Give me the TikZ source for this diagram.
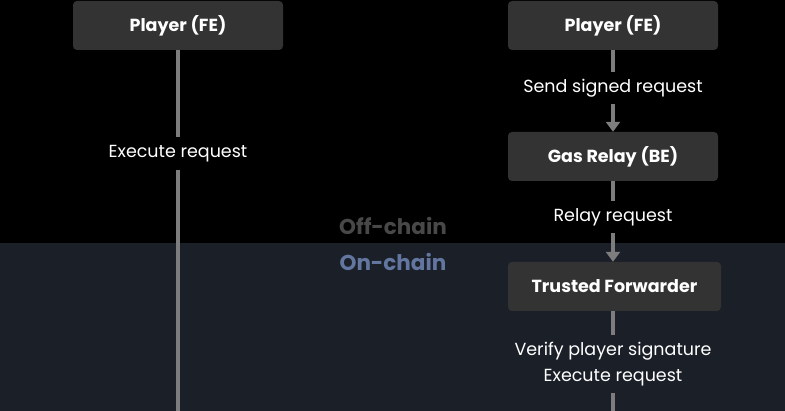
\documentclass[tikz,border=0pt]{standalone}
\usepackage{fontspec}
\setmainfont{Poppins}
\usetikzlibrary{arrows.meta}
\definecolor{boxgray}{HTML}{333333}
\definecolor{linegray}{HTML}{7D7D7D}
\definecolor{onbg}{HTML}{1B1F28}
\definecolor{offtxt}{HTML}{484848}
\definecolor{ontxt}{HTML}{6276A0}
\tikzset{
	actor/.style={fill=boxgray, rounded corners=4pt, minimum width=210pt, minimum height=49pt, text=white, font=\fontsize{17.5}{20}\selectfont\bfseries},
	step label/.style={text=white, minimum height=32pt, inner sep=0pt, align=center, font=\fontsize{17.5}{26}\selectfont},
	flow/.style={draw=linegray, line width=4pt},
	flowarrow/.style={flow, -{Triangle[width=14pt,length=10pt]}},
	zone/.style={font=\fontsize{21.5}{24}\selectfont\bfseries}
}
\begin{document}
\begin{tikzpicture}[x=1pt, y=-1pt]
	\useasboundingbox (0,0) rectangle (785,411);
	% fundo: off-chain em cima, on-chain em baixo
		\fill[black] (0,0) rectangle (785,243);
		\fill[onbg] (0,243) rectangle (785,411);
		\node[zone, text=offtxt] (offchain) at (393,226) {Off-chain};
		\node[zone, text=ontxt] (onchain) at (393,262) {On-chain};

	% coluna da esquerda
		\node[actor] (playerL) at (178,25.5) {Player (FE)};
		\node[step label] (execL) at (178,153.5) {Execute request};
		\coordinate (endL) at (178,411);
		\draw[flow] (playerL) -- (execL);
		\draw[flow] (execL) -- (endL);

	% coluna da direita
		\node[actor] (playerR) at (613,25.5) {Player (FE)};
		\node[step label] (send) at (613,88) {Send signed request};
		\node[actor] (relay) at (613,156.5) {Gas Relay (BE)};
		\node[step label] (relaylbl) at (613,217) {Relay request};
		\node[actor, minimum width=213pt] (forwarder) at (614.5,286.5) {Trusted Forwarder};
		\node[step label, minimum height=58pt] (verify) at (613,364) {Verify player signature\\Execute request};
		\coordinate (endR) at (613,411);
		\draw[flow] (playerR) -- (send);
		\draw[flowarrow] (send) -- (relay);
		\draw[flow] (relay) -- (relaylbl);
		\draw[flowarrow] (relaylbl) -- (relaylbl |- forwarder.north);
		\draw[flow] (forwarder.south -| verify) -- (verify);
		\draw[flow] (verify) -- (endR);
\end{tikzpicture}
\end{document}
